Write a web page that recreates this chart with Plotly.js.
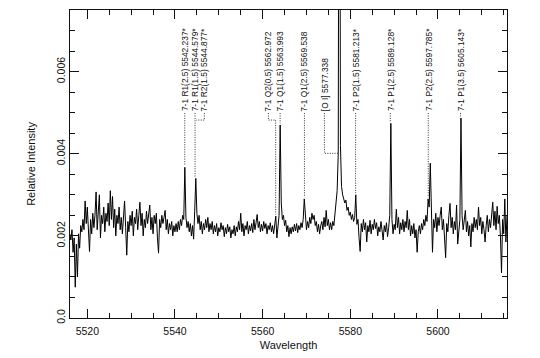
<!DOCTYPE html>
<html><head><meta charset="utf-8">
<script src="https://cdn.plot.ly/plotly-3.0.1.min.js"></script>
<style>html,body{margin:0;padding:0;background:#fff}#chart{width:540px;height:358px}</style>
</head><body><div id="chart"></div>
<script>
// ---------- data ----------
const WAVELENGTH_START = 5516.0;   // first sample (Å)
const WAVELENGTH_STEP = 0.25;      // sampling (Å)
const INTENSITY = [
0.00205,0.00190,0.00215,0.00160,0.00195,0.00075,0.00180,0.00100,
0.00205,0.00170,0.00225,0.00210,0.00240,0.00215,0.00285,0.00230,
0.00270,0.00215,0.00162,0.00240,0.00205,0.00255,0.00220,0.00250,
0.00307,0.00215,0.00265,0.00300,0.00195,0.00250,0.00230,0.00270,
0.00210,0.00255,0.00235,0.00280,0.00225,0.00310,0.00240,0.00296,
0.00220,0.00265,0.00200,0.00250,0.00230,0.00270,0.00215,0.00245,
0.00205,0.00260,0.00285,0.00220,0.00153,0.00235,0.00210,0.00250,
0.00225,0.00260,0.00200,0.00245,0.00230,0.00265,0.00215,0.00250,
0.00282,0.00225,0.00255,0.00200,0.00240,0.00220,0.00260,0.00230,
0.00250,0.00275,0.00215,0.00245,0.00205,0.00250,0.00230,0.00255,
0.00195,0.00158,0.00240,0.00220,0.00250,0.00230,0.00245,0.00262,
0.00215,0.00240,0.00205,0.00230,0.00215,0.00235,0.00200,0.00225,
0.00210,0.00230,0.00210,0.00235,0.00215,0.00240,0.00225,0.00250,
0.00240,0.00367,0.00245,0.00220,0.00235,0.00210,0.00230,0.00200,
0.00225,0.00192,0.00260,0.00340,0.00255,0.00230,0.00250,0.00215,
0.00235,0.00205,0.00230,0.00215,0.00240,0.00220,0.00245,0.00210,
0.00230,0.00215,0.00235,0.00205,0.00225,0.00210,0.00230,0.00200,
0.00220,0.00210,0.00232,0.00215,0.00225,0.00198,0.00220,0.00205,
0.00228,0.00210,0.00222,0.00195,0.00215,0.00205,0.00225,0.00200,
0.00222,0.00210,0.00235,0.00215,0.00255,0.00210,0.00230,0.00200,
0.00225,0.00215,0.00235,0.00205,0.00225,0.00212,0.00230,0.00208,
0.00240,0.00215,0.00232,0.00252,0.00220,0.00235,0.00210,0.00228,
0.00212,0.00235,0.00218,0.00230,0.00205,0.00225,0.00215,0.00232,
0.00210,0.00225,0.00205,0.00235,0.00248,0.00195,0.00225,0.00250,
0.00470,0.00280,0.00240,0.00250,0.00225,0.00238,0.00210,0.00225,
0.00198,0.00220,0.00205,0.00222,0.00210,0.00228,0.00212,0.00230,
0.00208,0.00225,0.00215,0.00232,0.00220,0.00240,0.00290,0.00235,
0.00215,0.00235,0.00220,0.00245,0.00230,0.00255,0.00240,0.00250,
0.00225,0.00235,0.00210,0.00228,0.00205,0.00225,0.00235,0.00215,
0.00245,0.00222,0.00262,0.00225,0.00240,0.00215,0.00232,0.00215,
0.00235,0.00225,0.00255,0.00290,0.00310,0.00400,0.02000,0.00420,
0.00320,0.00300,0.00292,0.00280,0.00287,0.00262,0.00270,0.00250,
0.00258,0.00240,0.00252,0.00235,0.00245,0.00300,0.00228,0.00240,
0.00195,0.00162,0.00230,0.00210,0.00240,0.00215,0.00232,0.00185,
0.00225,0.00210,0.00238,0.00205,0.00228,0.00215,0.00240,0.00218,
0.00232,0.00200,0.00222,0.00210,0.00235,0.00215,0.00190,0.00225,
0.00210,0.00232,0.00198,0.00220,0.00250,0.00474,0.00240,0.00205,
0.00228,0.00215,0.00265,0.00220,0.00245,0.00205,0.00232,0.00215,
0.00240,0.00210,0.00235,0.00220,0.00262,0.00215,0.00240,0.00200,
0.00225,0.00205,0.00230,0.00195,0.00215,0.00160,0.00210,0.00225,
0.00205,0.00230,0.00215,0.00240,0.00225,0.00250,0.00235,0.00290,
0.00270,0.00377,0.00215,0.00160,0.00240,0.00220,0.00255,0.00210,
0.00245,0.00225,0.00250,0.00270,0.00215,0.00240,0.00195,0.00147,
0.00230,0.00210,0.00250,0.00279,0.00220,0.00245,0.00205,0.00235,
0.00215,0.00275,0.00180,0.00225,0.00240,0.00487,0.00250,0.00215,
0.00235,0.00262,0.00210,0.00235,0.00200,0.00225,0.00173,0.00230,
0.00210,0.00245,0.00220,0.00240,0.00215,0.00270,0.00225,0.00245,
0.00205,0.00235,0.00215,0.00185,0.00225,0.00250,0.00210,0.00240,
0.00220,0.00255,0.00282,0.00225,0.00260,0.00215,0.00272,0.00230,
0.00250,0.00200,0.00110,0.00240,0.00205,0.00290,0.00185,0.00250
];
const LINE_WAVELENGTHS = [5542.237, 5544.579, 5544.877, 5562.972, 5563.993, 5569.538,
                          5577.338, 5581.213, 5589.128, 5597.785, 5605.143];
const LINE_LABELS = [
  "7-1 R1(2.5) 5542.237*", "7-1 R1(1.5) 5544.579*", "7-1 R2(1.5) 5544.877*",
  "7-1 Q2(0.5) 5562.972", "7-1 Q1(1.5) 5563.993", "7-1 Q1(2.5) 5569.538",
  "[O I] 5577.338", "7-1 P2(1.5) 5581.213*", "7-1 P1(2.5) 5589.128*",
  "7-1 P2(2.5) 5597.785*", "7-1 P1(3.5) 5605.143*"
];
const X_TICK_VALUES = [5520, 5540, 5560, 5580, 5600];
const Y_TICK_VALUES = [0, 0.002, 0.004, 0.006];
const Y_TICK_LABELS = ["0.0", "0.002", "0.004", "0.006"];

// ---------- layout-only settings for the line-identification leaders ----------
const LABEL_SHIFT = [0, 0, 1.83, -1.65, 0, 0, -3.24, 0, 0, 0, 0];       // label offset from line (Å)
const LEADER_JOG  = [null, null, 0.00482, 0.00482, null, null, 0.00401, null, null, null, null];
const STOP_AT_JOG = [false, false, true, false, false, false, true, false, false, false, false];
const LABEL_BASE = 0.00501;
const LEADER_TOP = 0.00499;
const LEADER_GAP = 0.00004;

const FONT = 'Liberation Sans, Arial, Helvetica, sans-serif';
const INK = '#111';

function peakTop(wl) {
  let m = -Infinity;
  INTENSITY.forEach((v, i) => {
    const w = WAVELENGTH_START + i * WAVELENGTH_STEP;
    if (Math.abs(w - wl) <= 0.3 && v > m) m = v;
  });
  return m;
}

const annotations = [];
const shapes = [];
LINE_WAVELENGTHS.forEach((wl, i) => {
  const lx = wl + LABEL_SHIFT[i];
  annotations.push({
    x: lx, y: LABEL_BASE, xref: 'x', yref: 'y', text: LINE_LABELS[i],
    textangle: -90, showarrow: false, xanchor: 'center', yanchor: 'bottom',
    font: {family: FONT, size: 8.4, color: INK}, borderpad: 0
  });
  let path = `M${lx},${LEADER_TOP}`;
  if (LEADER_JOG[i] !== null) {
    path += ` L${lx},${LEADER_JOG[i]} L${wl},${LEADER_JOG[i]}`;
  }
  if (!STOP_AT_JOG[i]) {
    path += ` L${wl},${peakTop(wl) + LEADER_GAP}`;
  }
  shapes.push({type: 'path', xref: 'x', yref: 'y', path: path,
    line: {color: '#333', width: 1, dash: '1px,1.4px'}});
});

const trace = {
  type: 'scatter', mode: 'lines',
  x0: WAVELENGTH_START, dx: WAVELENGTH_STEP, y: INTENSITY,
  line: {color: '#000', width: 1}, hoverinfo: 'skip'
};

const axisCommon = {
  ticks: 'inside', tickwidth: 1, tickcolor: INK, showline: true, linecolor: INK,
  linewidth: 1, mirror: 'allticks', showgrid: false, zeroline: false,
  tickfont: {family: FONT, size: 10.5, color: INK}
};

const layout = {
  width: 540, height: 358,
  margin: {l: 70, r: 33, t: 10, b: 40, pad: 0},
  paper_bgcolor: '#fff', plot_bgcolor: '#fff', showlegend: false,
  font: {family: FONT, color: INK, size: 10.5},
  xaxis: Object.assign({}, axisCommon, {
    range: [5516.05, 5615.75], tickmode: 'array', tickvals: X_TICK_VALUES, ticklen: 9,
    ticklabelstandoff: 3,
    minor: {tickmode: 'linear', tick0: 5520, dtick: 5, ticks: 'inside', ticklen: 5, tickwidth: 1, tickcolor: INK, showgrid: false},
    title: {text: 'Wavelength', font: {family: FONT, size: 11, color: INK}, standoff: 5}
  }),
  yaxis: Object.assign({}, axisCommon, {
    range: [0, 0.0075], tickmode: 'array', tickvals: Y_TICK_VALUES, ticktext: Y_TICK_LABELS,
    tickangle: -90, ticklen: 9,
    minor: {tickmode: 'linear', tick0: 0, dtick: 0.0005, ticks: 'inside', ticklen: 5, tickwidth: 1, tickcolor: INK, showgrid: false},
    title: {text: 'Relative Intensity', font: {family: FONT, size: 11, color: INK}, standoff: 16}
  }),
  annotations: annotations,
  shapes: shapes,
  hovermode: false
};

Plotly.newPlot('chart', [trace], layout, {displayModeBar: false, staticPlot: true});
</script>
</body></html>
